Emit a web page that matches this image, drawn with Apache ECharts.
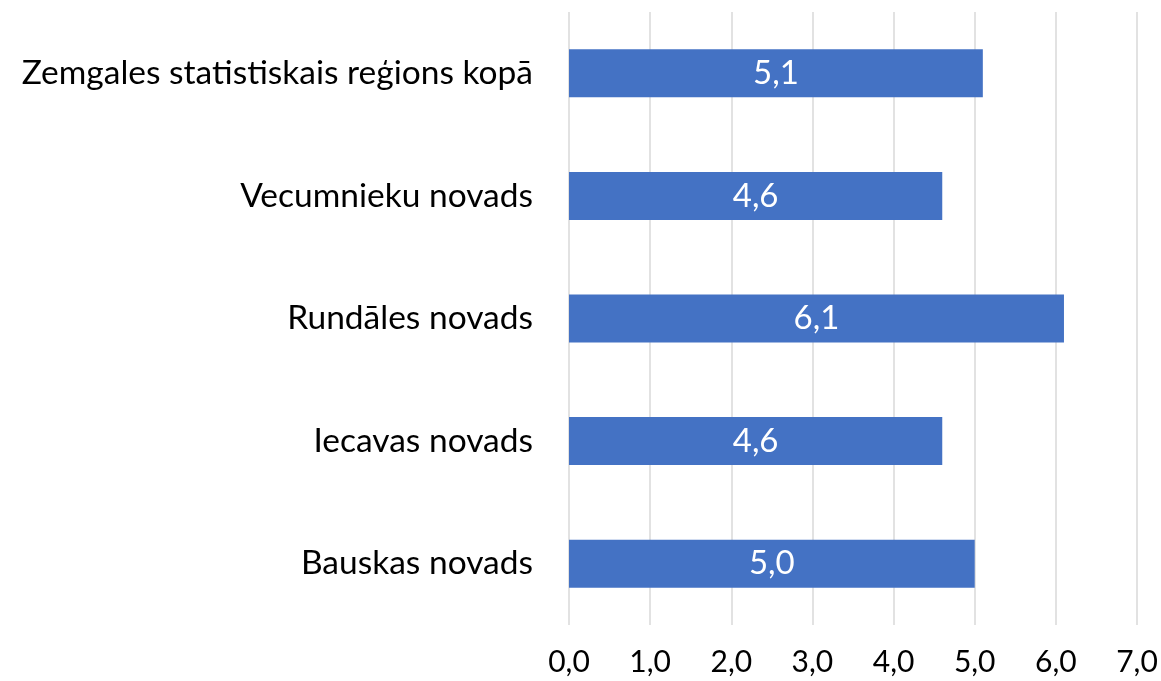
<!DOCTYPE html>
<html>
<head>
<meta charset="utf-8">
<script src="https://cdn.jsdelivr.net/npm/echarts@6/dist/echarts.min.js"></script>
<style>
  html, body { margin: 0; padding: 0; background: #fff; }
  #chart { width: 1161px; height: 681px; }
</style>
</head>
<body>
<div id="chart"></div>
<script>
// kategorijas (no apakšas uz augšu)
var categories = ['Bauskas novads', 'Iecavas novads', 'Rundāles novads', 'Vecumnieku novads', 'Zemgales statistiskais reģions kopā'];
var values = [5.0, 4.6, 6.1, 4.6, 5.1];
var xTicks = [0, 1, 2, 3, 4, 5, 6, 7];

var chart = echarts.init(document.getElementById('chart'));
var option = {
    animation: false,
    grid: { left: 569, right: 24, top: 12, bottom: 56 },
    xAxis: {
        type: 'value',
        min: xTicks[0],
        max: xTicks[xTicks.length - 1],
        interval: 1,
        axisLine: { show: false },
        axisTick: { show: false },
        splitLine: { lineStyle: { color: '#D9D9D9', width: 1.5 } },
        axisLabel: {
            margin: 22,
            fontFamily: 'Lato',
            fontSize: 30,
            color: '#000',
            formatter: function (v) { return v.toFixed(1).replace('.', ','); }
        }
    },
    yAxis: {
        type: 'category',
        data: categories,
        axisLine: { show: false },
        axisTick: { show: false },
        axisLabel: {
            margin: 36,
            fontFamily: 'Lato',
            fontSize: 33.5,
            color: '#000'
        }
    },
    series: [{
        type: 'bar',
        data: values,
        barWidth: 48,
        itemStyle: { color: '#4472C4' },
        label: {
            show: true,
            position: 'inside',
            color: '#fff',
            fontFamily: 'Lato',
            fontSize: 33,
            formatter: function (p) { return p.value.toFixed(1).replace('.', ','); }
        }
    }]
};
chart.setOption(option);
window.addEventListener('resize', chart.resize);
</script>
</body>
</html>
